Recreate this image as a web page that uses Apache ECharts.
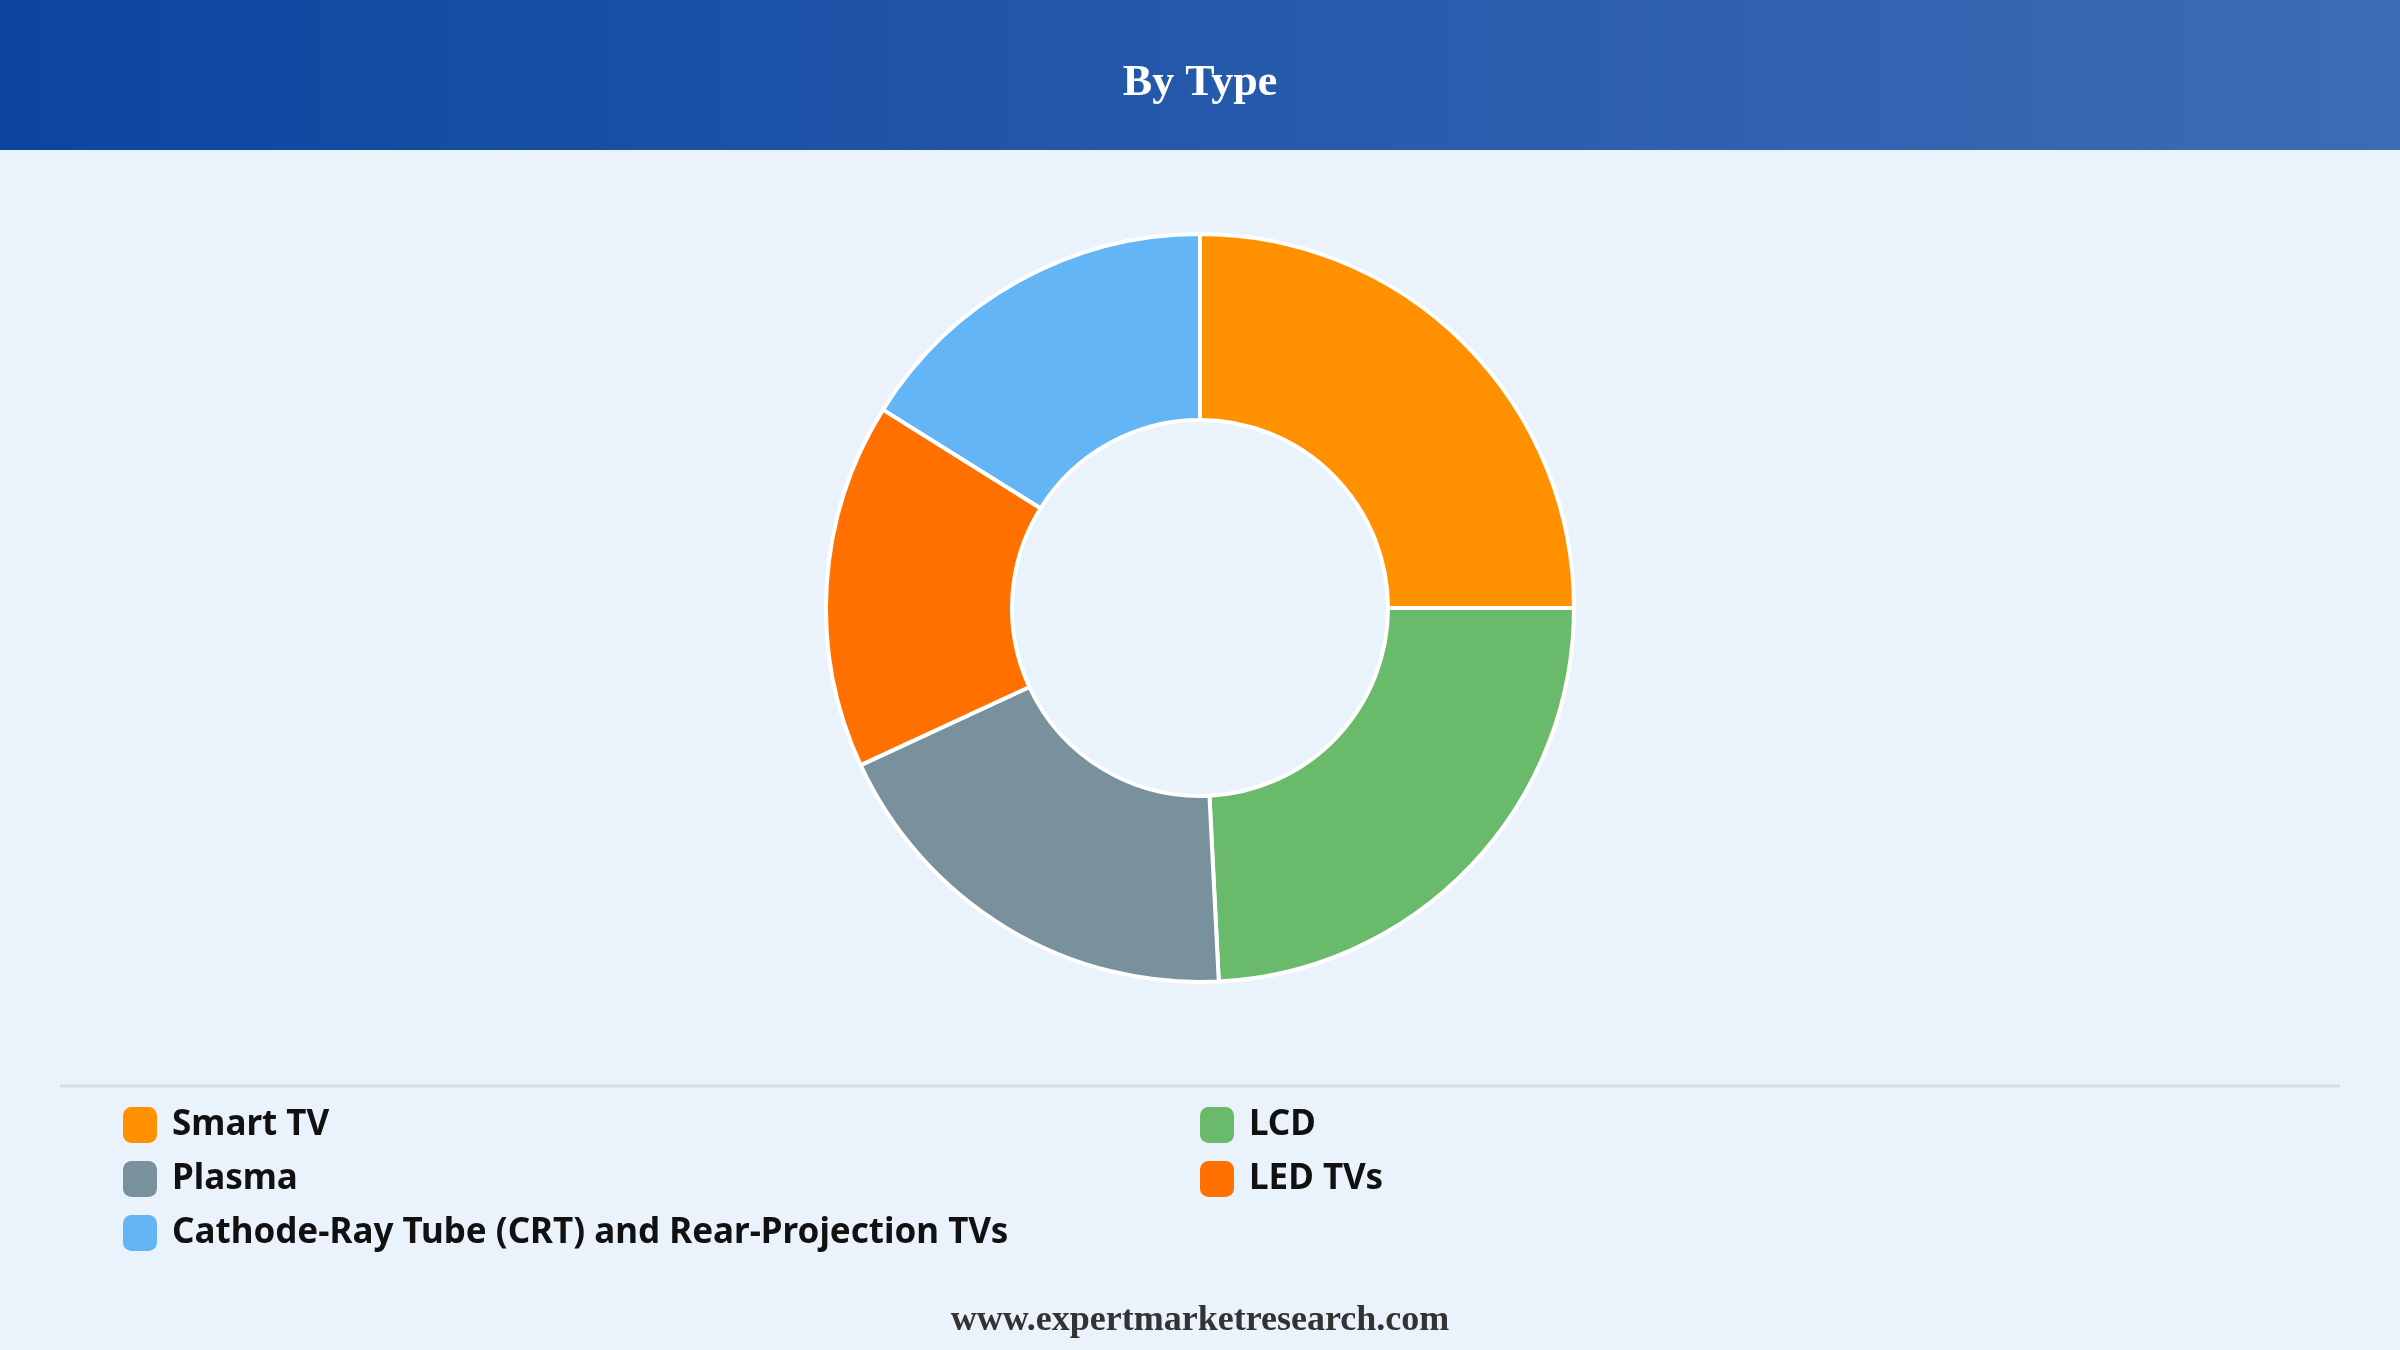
<!DOCTYPE html>
<html>
<head>
<meta charset="utf-8">
<script src="https://cdn.jsdelivr.net/npm/echarts@6/dist/echarts.min.js"></script>
<style>
  html, body { margin: 0; padding: 0; background: #eaf2fb; }
  #chart { width: 2400px; height: 1350px; }
</style>
</head>
<body>
<div id="chart"></div>
<script>
// values (share of total, %)
const categories = ['Smart TV', 'LCD', 'Plasma', 'LED TVs', 'Cathode-Ray Tube (CRT) and Rear-Projection TVs']
const shares = [25.0, 24.2, 18.9, 15.8, 16.1]
const palette = ['#ff9100', '#69bb6b', '#78919c', '#ff7000', '#64b5f5']

const leftColumn = [categories[0], categories[2], categories[4]]
const rightColumn = [categories[1], categories[3]]

let chart = echarts.init(document.getElementById('chart'))

const legendBase = {
    orient: 'vertical',
    top: 1107,
    padding: 0,
    icon: 'roundRect',
    itemWidth: 34,
    itemHeight: 36,
    itemGap: 18,
    selectedMode: false,
    itemStyle: { borderWidth: 0 },
    textStyle: {
        fontFamily: 'Noto Sans',
        fontWeight: 'bold',
        fontSize: 35,
        lineHeight: 36,
        color: '#111111',
        padding: [0, 0, 0, 10]
    }
}

chart.setOption({
    backgroundColor: '#eaf2fb',
    color: palette,
    graphic: [
        {
            type: 'rect',
            left: 0, top: 0,
            shape: { width: 2400, height: 150 },
            style: {
                fill: new echarts.graphic.LinearGradient(0, 0, 1, 0, [
                    { offset: 0, color: '#0c45a0' },
                    { offset: 1, color: '#3d6cb5' }
                ])
            },
            z: 0
        },
        {
            type: 'line',
            shape: { x1: 60, y1: 1086, x2: 2340, y2: 1086 },
            style: { stroke: '#d8dde3', lineWidth: 3 }
        }
    ],
    title: [
        {
            text: 'By Type',
            left: 'center',
            top: 57,
            textStyle: {
                fontFamily: 'Liberation Serif',
                fontWeight: 'bold',
                fontSize: 44,
                color: '#ffffff'
            }
        },
        {
            text: 'www.expertmarketresearch.com',
            left: 'center',
            top: 1298,
            textStyle: {
                fontFamily: 'Liberation Serif',
                fontWeight: 'bold',
                fontSize: 36,
                color: '#333333'
            }
        }
    ],
    legend: [
        Object.assign({}, legendBase, { left: 123, data: leftColumn }),
        Object.assign({}, legendBase, { left: 1200, data: rightColumn })
    ],
    series: [
        {
            name: 'By Type',
            type: 'pie',
            center: [1200, 608],
            radius: [188, 374],
            startAngle: 90,
            clockwise: true,
            avoidLabelOverlap: false,
            label: { show: false },
            labelLine: { show: false },
            emphasis: { disabled: true },
            itemStyle: {
                borderColor: '#ffffff',
                borderWidth: 4
            },
            data: categories.map((name, i) => ({ name: name, value: shares[i] }))
        }
    ]
})
</script>
</body>
</html>
